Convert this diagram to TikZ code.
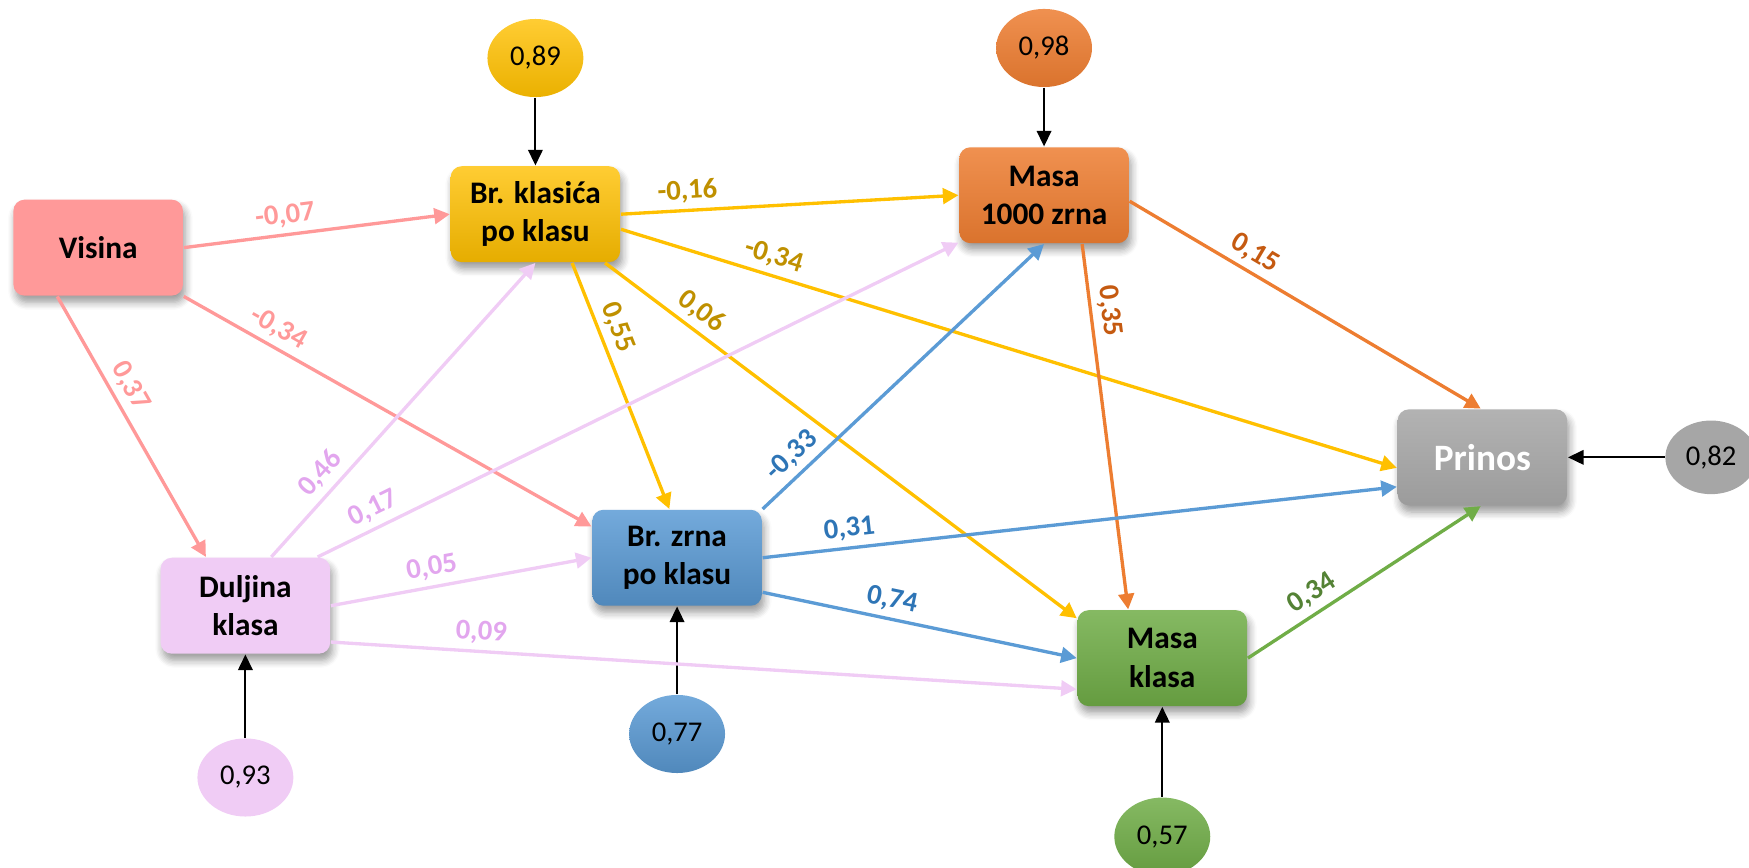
\documentclass[tikz,border=0pt]{standalone}
\usepackage{fontspec}
\setmainfont{Carlito}
\usetikzlibrary{arrows.meta,shapes.geometric,shadows.blur}

\definecolor{visC}{HTML}{FF9999}
\definecolor{klasC}{HTML}{FFC000}
\definecolor{klasT}{HTML}{BF9000}
\definecolor{masaC}{HTML}{ED7D31}
\definecolor{masaT}{HTML}{C55A11}
\definecolor{dulC}{HTML}{F0CCF5}
\definecolor{dulT}{HTML}{E2A6EE}
\definecolor{zrnaC}{HTML}{5B9BD5}
\definecolor{zrnaT}{HTML}{2E75B6}
\definecolor{mkC}{HTML}{70AD47}
\definecolor{mkT}{HTML}{548235}

\begin{document}
\begin{tikzpicture}
	[font=\fontsize{7.3}{8.9}\selectfont,
	box/.style={rectangle,rounded corners=1mm,minimum width=1.52cm,minimum height=0.86cm,align=center,
		font=\fontsize{8}{9.8}\selectfont\bfseries,
		blur shadow={shadow xshift=0.2mm,shadow yshift=-0.6mm,shadow blur steps=6,shadow opacity=40}},
	err/.style={ellipse,minimum width=0.86cm,minimum height=0.70cm,inner sep=0pt},
	ln/.style={line width=0.85pt,-{Triangle[length=1.4mm,width=1.4mm]}},
	lnvis/.style={ln,draw=visC,text=visC},
	lnklas/.style={ln,draw=klasC,text=klasT},
	lnmasa/.style={ln,draw=masaC,text=masaT},
	lndul/.style={ln,draw=dulC,text=dulT},
	lnzrna/.style={ln,draw=zrnaC,text=zrnaT},
	lnmk/.style={ln,draw=mkC,text=mkT},
	w/.style={sloped,above,inner sep=1.5pt,font=\fontsize{7.3}{8.9}\selectfont\bfseries}]
	\useasboundingbox (0,0) rectangle (15.68,-7.78);

	\node[box,fill=visC] (vis) at (0.88,-2.22) {Visina};
	\node[box,top color=klasC!80!white,bottom color=klasC!90!black] (klas) at (4.80,-1.92) {Br. klasića\\po klasu};
	\node[box,top color=masaC!85!white,bottom color=masaC!92!black] (masa) at (9.36,-1.75) {Masa\\1000 zrna};
	\node[box,top color=gray!60,bottom color=gray!78,text=white,font=\fontsize{9.5}{11}\selectfont\bfseries] (prinos) at (13.29,-4.10) {Prinos};
	\node[box,fill=dulC] (dul) at (2.20,-5.43) {Duljina\\klasa};
	\node[box,top color=zrnaC!85!white,bottom color=zrnaC!88!black] (zrna) at (6.07,-5.00) {Br. zrna\\po klasu};
	\node[box,top color=mkC!85!white,bottom color=mkC!90!black] (mk) at (10.42,-5.90) {Masa\\klasa};

	\node[err,top color=klasC!80!white,bottom color=klasC!92!black] (e89) at (4.80,-0.52) {0,89};
	\node[err,top color=masaC!85!white,bottom color=masaC!92!black] (e98) at (9.36,-0.43) {0,98};
	\node[err,fill=gray!70,minimum width=0.82cm,minimum height=0.66cm] (e82) at (15.34,-4.10) {0,82};
	\node[err,fill=dulC] (e93) at (2.20,-6.97) {0,93};
	\node[err,top color=zrnaC!85!white,bottom color=zrnaC!88!black] (e77) at (6.07,-6.58) {0,77};
	\node[err,top color=mkC!85!white,bottom color=mkC!90!black] (e57) at (10.42,-7.50) {0,57};

	\foreach \from/\to in {e89.south/klas.north,e98.south/masa.north,e82.west/prinos.east,e93.north/dul.south,e77.north/zrna.south,e57.north/mk.south}
	\draw[line width=0.5pt,-{Triangle[length=1.4mm,width=1.3mm]}] (\from) -- (\to);

	\foreach \from/\to/\w/\p/\s in {
		vis.east/klas.west/{-0,07}/0.39/lnvis,
		vis.south east/zrna.160/{-0,34}/0.21/lnvis,
		vis.230/dul.129/{0,37}/0.38/lnvis,
		klas.east/masa.west/{-0,16}/0.2/lnklas,
		klas.350/prinos.187/{-0,34}/0.19/lnklas,
		klas.325/mk.155/{0,06}/0.18/lnklas,
		klas.307/zrna.99/{0,55}/0.29/lnklas,
		masa.356/prinos.92/{0,15}/0.33/lnmasa,
		masa.308/mk.125/{0,35}/0.19/lnmasa,
		dul.62/klas.south/{0,46}/0.24/lndul,
		dul.34/masa.209/{0,17}/0.1/lndul,
		dul.east/zrna.west/{0,05}/0.4/lndul,
		dul.337/mk.200/{0,09}/0.2/lndul,
		zrna.north east/masa.south/{-0,33}/0.15/lnzrna,
		zrna.east/prinos.199/{0,31}/0.14/lnzrna,
		zrna.338/mk.west/{0,74}/0.4/lnzrna,
		mk.east/prinos.268/{0,34}/0.32/lnmk}
	\draw[\s] (\from) -- node[w,pos=\p] {\w} (\to);
\end{tikzpicture}
\end{document}
